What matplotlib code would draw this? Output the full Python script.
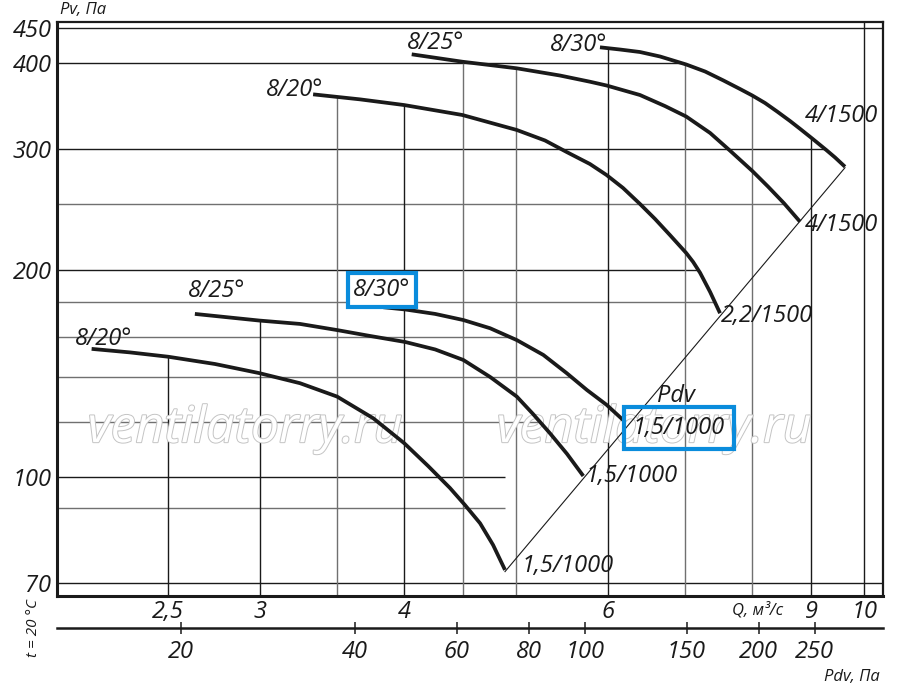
import numpy as np
import matplotlib
matplotlib.use("Agg")
import matplotlib.pyplot as plt
import matplotlib.patheffects as pe
from matplotlib.ticker import NullLocator, FixedLocator, FixedFormatter

plt.rcParams['font.family'] = ['Open Sans', 'DejaVu Sans']
plt.rcParams['font.style'] = 'italic'

# ---------------- data (Q in m3/s, Pv in Pa) ----------------
q_820_big = [3.336, 3.662, 3.999, 4.490, 5.005, 5.295, 5.528, 5.790, 5.984, 6.184, 6.397,
             6.591, 6.790, 7.013, 7.111, 7.211, 7.356, 7.503]
p_820_big = [360.6, 354.6, 347.9, 336.5, 320.0, 308.9, 297.2, 285.5, 275.2, 263.5, 249.7,
             237.5, 225.0, 211.9, 205.6, 198.2, 185.9, 173.1]
q_825_big = [4.060, 4.490, 5.005, 5.455, 5.790, 5.984, 6.397, 6.724, 7.013, 7.356, 7.653,
             8.001, 8.255, 8.522, 8.798]
p_825_big = [412.4, 402.3, 393.5, 384.1, 376.2, 371.5, 359.8, 346.7, 334.8, 316.8, 298.6,
             278.9, 264.7, 250.3, 235.3]
q_830_big = [5.907, 6.147, 6.397, 6.658, 7.013, 7.283, 7.553, 7.808, 8.001, 8.206, 8.405,
             8.625, 8.798, 9.012, 9.280, 9.435, 9.623]
p_830_big = [422.2, 419.1, 415.6, 409.4, 398.6, 389.3, 377.8, 367.1, 359.2, 350.3, 340.5,
             329.8, 321.3, 311.1, 298.8, 291.8, 282.9]
q_820_small = [2.146, 2.316, 2.500, 2.744, 2.997, 3.250, 3.499, 3.761, 4.001, 4.195, 4.381,
               4.514, 4.652, 4.774, 4.889]
p_820_small = [153.6, 151.8, 149.6, 146.0, 141.6, 136.9, 130.9, 121.7, 111.9, 103.7, 96.35,
               91.0, 85.6, 79.6, 73.2]
q_825_small = [2.636, 2.997, 3.250, 3.499, 3.736, 4.007, 4.254, 4.499, 4.746, 5.005, 5.169,
               5.348, 5.532, 5.714]
p_825_small = [172.7, 168.9, 167.0, 163.6, 160.4, 157.2, 153.3, 148.0, 139.8, 130.9, 123.5,
               115.7, 108.0, 100.3]
q_830_small = [3.837, 4.007, 4.254, 4.499, 4.746, 5.005, 5.277, 5.528, 5.756, 5.986, 6.209]
p_830_small = [176.6, 175.3, 172.7, 169.2, 164.6, 158.2, 150.5, 141.6, 133.8, 127.3, 120.3]

start_labels = ['8/20°', '8/25°', '8/30°', '8/20°', '8/25°', '8/30°']
end_labels = ['2,2/1500', '4/1500', '4/1500', '1,5/1000', '1,5/1000', '1,5/1000']

PDV_COEF = 3.045  # Pdv = PDV_COEF * Q^2

q_ticks = [2.5, 3, 4, 6, 9, 10]
q_tick_labels = ['2,5', '3', '4', '6', '9', '10']
q_grid = [2.5, 3, 3.5, 4, 4.5, 5, 6, 7, 8, 9, 10]
p_ticks = [70, 100, 200, 300, 400, 450]
p_tick_labels = ['70', '100', '200', '300', '400', '450']
p_grid = [70, 90, 100, 120, 140, 160, 180, 200, 250, 300, 400, 450]
pdv_ticks = [20, 40, 60, 80, 100, 150, 200, 250]
pdv_tick_labels = ['20', '40', '60', '80', '100', '150', '200', '250']

# ---------------- figure ----------------
W, H = 900, 695
fig = plt.figure(figsize=(W / 100, H / 100), dpi=100)
ax = fig.add_axes([57 / W, 1 - 596 / H, 826 / W, 574 / H])
ax.set_xscale('log')
ax.set_yscale('log')
XL = (2.003, 10.38)
YL = (67.07, 459.6)
ax.set_xlim(*XL)
ax.set_ylim(*YL)

INK = '#1a1a1a'
GREY = '#707070'
BLUE = '#0a8cdc'
FS = 17

curves = [(q_820_big, p_820_big), (q_825_big, p_825_big), (q_830_big, p_830_big),
          (q_820_small, p_820_small), (q_825_small, p_825_small), (q_830_small, p_830_small)]

ends_q = [c[0][-1] for c in curves]
q_lo, q_hi = min(ends_q), max(ends_q)
diag_q = [q_lo, q_hi]
diag_p = [PDV_COEF * q ** 2 for q in diag_q]

all_lines = curves + [(diag_q, diag_p)]

def right_end(level):
    xs = []
    for q, p in all_lines:
        q = np.asarray(q); p = np.asarray(p)
        if p.min() <= level <= p.max():
            lq = np.interp(np.log(level), np.log(p[::-1]), np.log(q[::-1]))
            xs.append(np.exp(lq))
    return max(xs) if xs else XL[1]

def top_end(qv):
    ys = []
    for q, p in curves:
        q = np.asarray(q); p = np.asarray(p)
        if q.min() <= qv <= q.max():
            ys.append(np.exp(np.interp(np.log(qv), np.log(q), np.log(p))))
    return max(ys) if ys else YL[1]

for lev in p_grid:
    col = INK if lev in p_ticks else GREY
    ax.hlines(lev, XL[0], right_end(lev), colors=col, lw=1.0, zorder=1)
for qv in q_grid:
    col = INK if qv in q_ticks else GREY
    ax.vlines(qv, YL[0], top_end(qv), colors=col, lw=1.0, zorder=1)

# curves
for q, p in curves:
    ax.plot(q, p, color=INK, lw=2.7, solid_capstyle='butt', solid_joinstyle='round', zorder=4)
ax.plot(diag_q, diag_p, color=INK, lw=0.8, zorder=3)

# labels near curve starts / ends  (offsets in pixels)
start_off = [(10, -2, 'right'), (-5, 5, 'left'), (7, -4, 'right'),
             (-17, 4, 'left'), (-7, 17, 'left'), (-30, 11, 'left')]
end_off = [(1, -9, 'left'), (5, -9, 'left'), (33, 45, 'right'),
           (17, -2, 'left'), (2, -6, 'left'), (8, -12, 'left')]
for i, (q, p) in enumerate(curves):
    dx, dy, ha = start_off[i]
    kw = {}
    if i == 5:
        kw['bbox'] = dict(boxstyle='square,pad=0.22', fc='white', ec=BLUE, lw=3)
    ax.annotate(start_labels[i], (q[0], p[0]), xytext=(dx, dy), textcoords='offset pixels',
                ha=ha, va='baseline', fontsize=FS, color=INK, zorder=5, **kw)
    dx, dy, ha = end_off[i]
    kw = {}
    if i == 5:
        kw['bbox'] = dict(boxstyle='square,pad=0.38', fc='none', ec=BLUE, lw=3)
    ax.annotate(end_labels[i], (q[-1], p[-1]), xytext=(dx, dy), textcoords='offset pixels',
                ha=ha, va='baseline', fontsize=FS, color=INK, zorder=5, **kw)
ax.annotate('Pdv', (q_830_small[-1], p_830_small[-1]), xytext=(32, 20), textcoords='offset pixels',
            ha='left', va='baseline', fontsize=FS, color=INK, zorder=5)

# ticks
ax.xaxis.set_major_locator(FixedLocator(q_ticks))
ax.xaxis.set_major_formatter(FixedFormatter(q_tick_labels))
ax.xaxis.set_minor_locator(NullLocator())
ax.yaxis.set_major_locator(FixedLocator(p_ticks))
ax.yaxis.set_major_formatter(FixedFormatter(p_tick_labels))
ax.yaxis.set_minor_locator(NullLocator())
ax.tick_params(axis='x', length=0, labelsize=FS, pad=3, colors=INK)
ax.tick_params(axis='y', length=0, labelsize=FS, pad=4, colors=INK)

for s in ['left', 'bottom']:
    ax.spines[s].set_linewidth(2.2)
for s in ['top', 'right']:
    ax.spines[s].set_linewidth(1.6)
for s in ax.spines.values():
    s.set_color(INK)

# secondary Pdv axis
def fwd(q):
    return PDV_COEF * np.asarray(q) ** 2
def inv(p):
    return np.sqrt(np.maximum(np.asarray(p, dtype=float), 1e-12) / PDV_COEF)
sec = ax.secondary_xaxis(-0.0557, functions=(fwd, inv))
sec.xaxis.set_major_locator(FixedLocator(pdv_ticks))
sec.xaxis.set_major_formatter(FixedFormatter(pdv_tick_labels))
sec.xaxis.set_minor_locator(NullLocator())
sec.tick_params(axis='x', direction='inout', length=9, width=1.1, labelsize=FS, pad=4, colors=INK)
sec.spines['bottom'].set_linewidth(1.8)
sec.spines['bottom'].set_color(INK)

# axis titles
ax.text(0.0036, 1.021, 'Pv, Па', transform=ax.transAxes, ha='left', va='center', fontsize=12, color=INK)
ax.text(0.848, -0.0244, 'Q, м³/с', transform=ax.transAxes, ha='center', va='center', fontsize=12, color=INK)
ax.text(0.9964, -0.141, 'Pdv, Па', transform=ax.transAxes, ha='right', va='center', fontsize=12, color=INK)
ax.text(-0.029, -0.0557, 't = 20 °C', transform=ax.transAxes, ha='center', va='center', rotation=90,
        fontsize=11, color=INK)

# watermarks
for xc in (0.2276, 0.7228):
    ax.text(xc, 0.268, 'ventilatorry.ru', transform=ax.transAxes, ha='center', va='baseline',
            fontsize=36, color='white', zorder=2,
            path_effects=[pe.Stroke(linewidth=1.4, foreground='#c4c4c4'), pe.Normal()])

fig.savefig('out.png', dpi=100)
